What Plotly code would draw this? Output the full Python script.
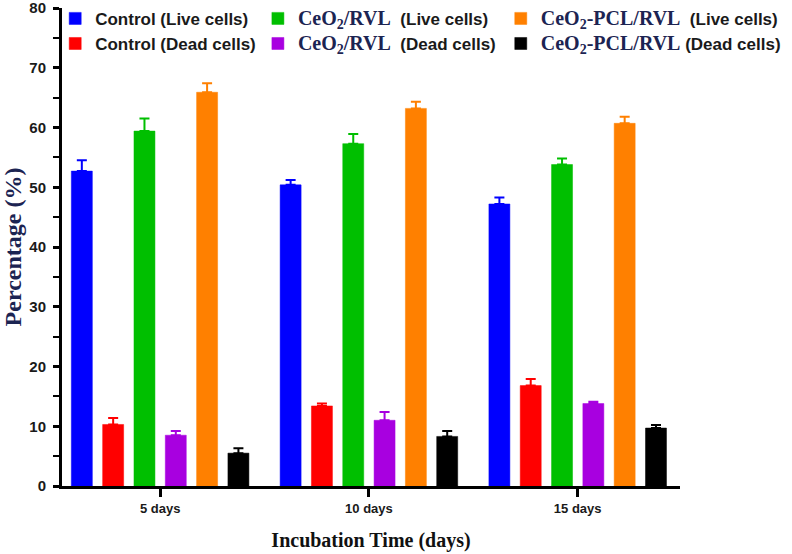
import plotly.graph_objects as go

categories = ["5 days", "10 days", "15 days"]

series_names = [
    "Control (Live cells)",
    "Control (Dead cells)",
    "CeO2/RVL (Live cells)",
    "CeO2/RVL (Dead cells)",
    "CeO2-PCL/RVL (Live cells)",
    "CeO2-PCL/RVL (Dead cells)",
]

control_live = [52.7, 50.4, 47.2]
control_live_err = [1.8, 0.8, 1.1]
control_dead = [10.3, 13.4, 16.8]
control_dead_err = [1.1, 0.4, 1.1]
ceo2_live = [59.4, 57.3, 53.8]
ceo2_live_err = [2.1, 1.6, 1.0]
ceo2_dead = [8.5, 11.0, 13.8]
ceo2_dead_err = [0.7, 1.4, 0.3]
pcl_live = [65.9, 63.2, 60.7]
pcl_live_err = [1.5, 1.1, 1.1]
pcl_dead = [5.5, 8.3, 9.7]
pcl_dead_err = [0.8, 0.9, 0.5]

values = [control_live, control_dead, ceo2_live, ceo2_dead, pcl_live, pcl_dead]
errors = [control_live_err, control_dead_err, ceo2_live_err, ceo2_dead_err, pcl_live_err, pcl_dead_err]
colors = ["#0000FF", "#FF0000", "#00BF00", "#A800E0", "#FF8000", "#000000"]
legend_ids = ["legend", "legend", "legend2", "legend2", "legend3", "legend3"]

NB = "\u00a0"
SER = "font-family:'Liberation Serif','Times New Roman',serif;font-weight:bold;font-size:20px;color:#1c2452"
legend_labels = [
    "Control (Live cells)",
    "Control (Dead cells)",
    f"<span style=\"{SER}\">CeO<sub>2</sub>/RVL</span>{NB*2}(Live cells)",
    f"<span style=\"{SER}\">CeO<sub>2</sub>/RVL</span>{NB*2}(Dead cells)",
    f"<span style=\"{SER}\">CeO<sub>2</sub>-PCL/RVL</span>{NB*2}(Live cells)",
    f"<span style=\"{SER}\">CeO<sub>2</sub>-PCL/RVL</span>{NB*1}(Dead cells)",
]

fig = go.Figure()
for name, lab, v, e, c, lg in zip(series_names, legend_labels, values, errors, colors, legend_ids):
    fig.add_trace(go.Bar(
        x=categories, y=v, name=lab, legend=lg,
        marker=dict(color=c, line=dict(color=c, width=0.5)),
        error_y=dict(type="data", array=e, arrayminus=[0] * len(e), symmetric=False,
                     color=c, thickness=2, width=5),
    ))

legend_font = dict(family="Liberation Sans, Arial, sans-serif", size=17, color="#1a1a1a", weight="bold")
common_leg = dict(font=legend_font, bgcolor="rgba(0,0,0,0)", yanchor="top", xanchor="left",
                  orientation="v", tracegroupgap=0, itemclick=False)

fig.update_layout(
    width=792, height=554,
    margin=dict(l=62, r=112, t=8, b=68, autoexpand=False),
    paper_bgcolor="white", plot_bgcolor="white",
    barmode="group", bargap=0.1, bargroupgap=0.33,
    legend=dict(x=-0.011, y=1.015, **common_leg),
    legend2=dict(x=0.317, y=1.015, **common_leg),
    legend3=dict(x=0.71, y=1.015, **common_leg),
    xaxis=dict(
        range=[-0.47, 2.49],
        showline=True, linecolor="black", linewidth=3,
        ticks="outside", ticklen=8, tickwidth=2.5, tickcolor="black",
        tickfont=dict(family="Liberation Sans, Arial, sans-serif", size=13, color="#1a1a1a", weight="bold"),
        showgrid=False,
        title=dict(text="Incubation Time (days)", standoff=19,
                   font=dict(family="Liberation Serif, Times New Roman, serif", size=20, color="#111", weight="bold")),
    ),
    yaxis=dict(
        range=[0, 80], dtick=10, tick0=0,
        showline=True, linecolor="black", linewidth=3,
        ticks="outside", ticklen=6, tickwidth=2.5, tickcolor="black",
        ticklabelstandoff=4, ticklabeloverflow="allow",
        minor=dict(dtick=5, ticks="outside", ticklen=6, tickwidth=2, tickcolor="black", showgrid=False),
        tickfont=dict(family="Liberation Sans, Arial, sans-serif", size=15, color="#1a1a1a", weight="bold"),
        showgrid=False, zeroline=False,
        title=dict(text="Percentage (%)", standoff=6,
                   font=dict(family="Liberation Serif, Times New Roman, serif", size=24, color="#1c2452", weight="bold")),
    ),
)

# remove the browser's default 8px body margin so the figure sits at the page origin
fig.write_html("out.html", config={"displayModeBar": False},
               post_script="document.body.style.margin='0';")
